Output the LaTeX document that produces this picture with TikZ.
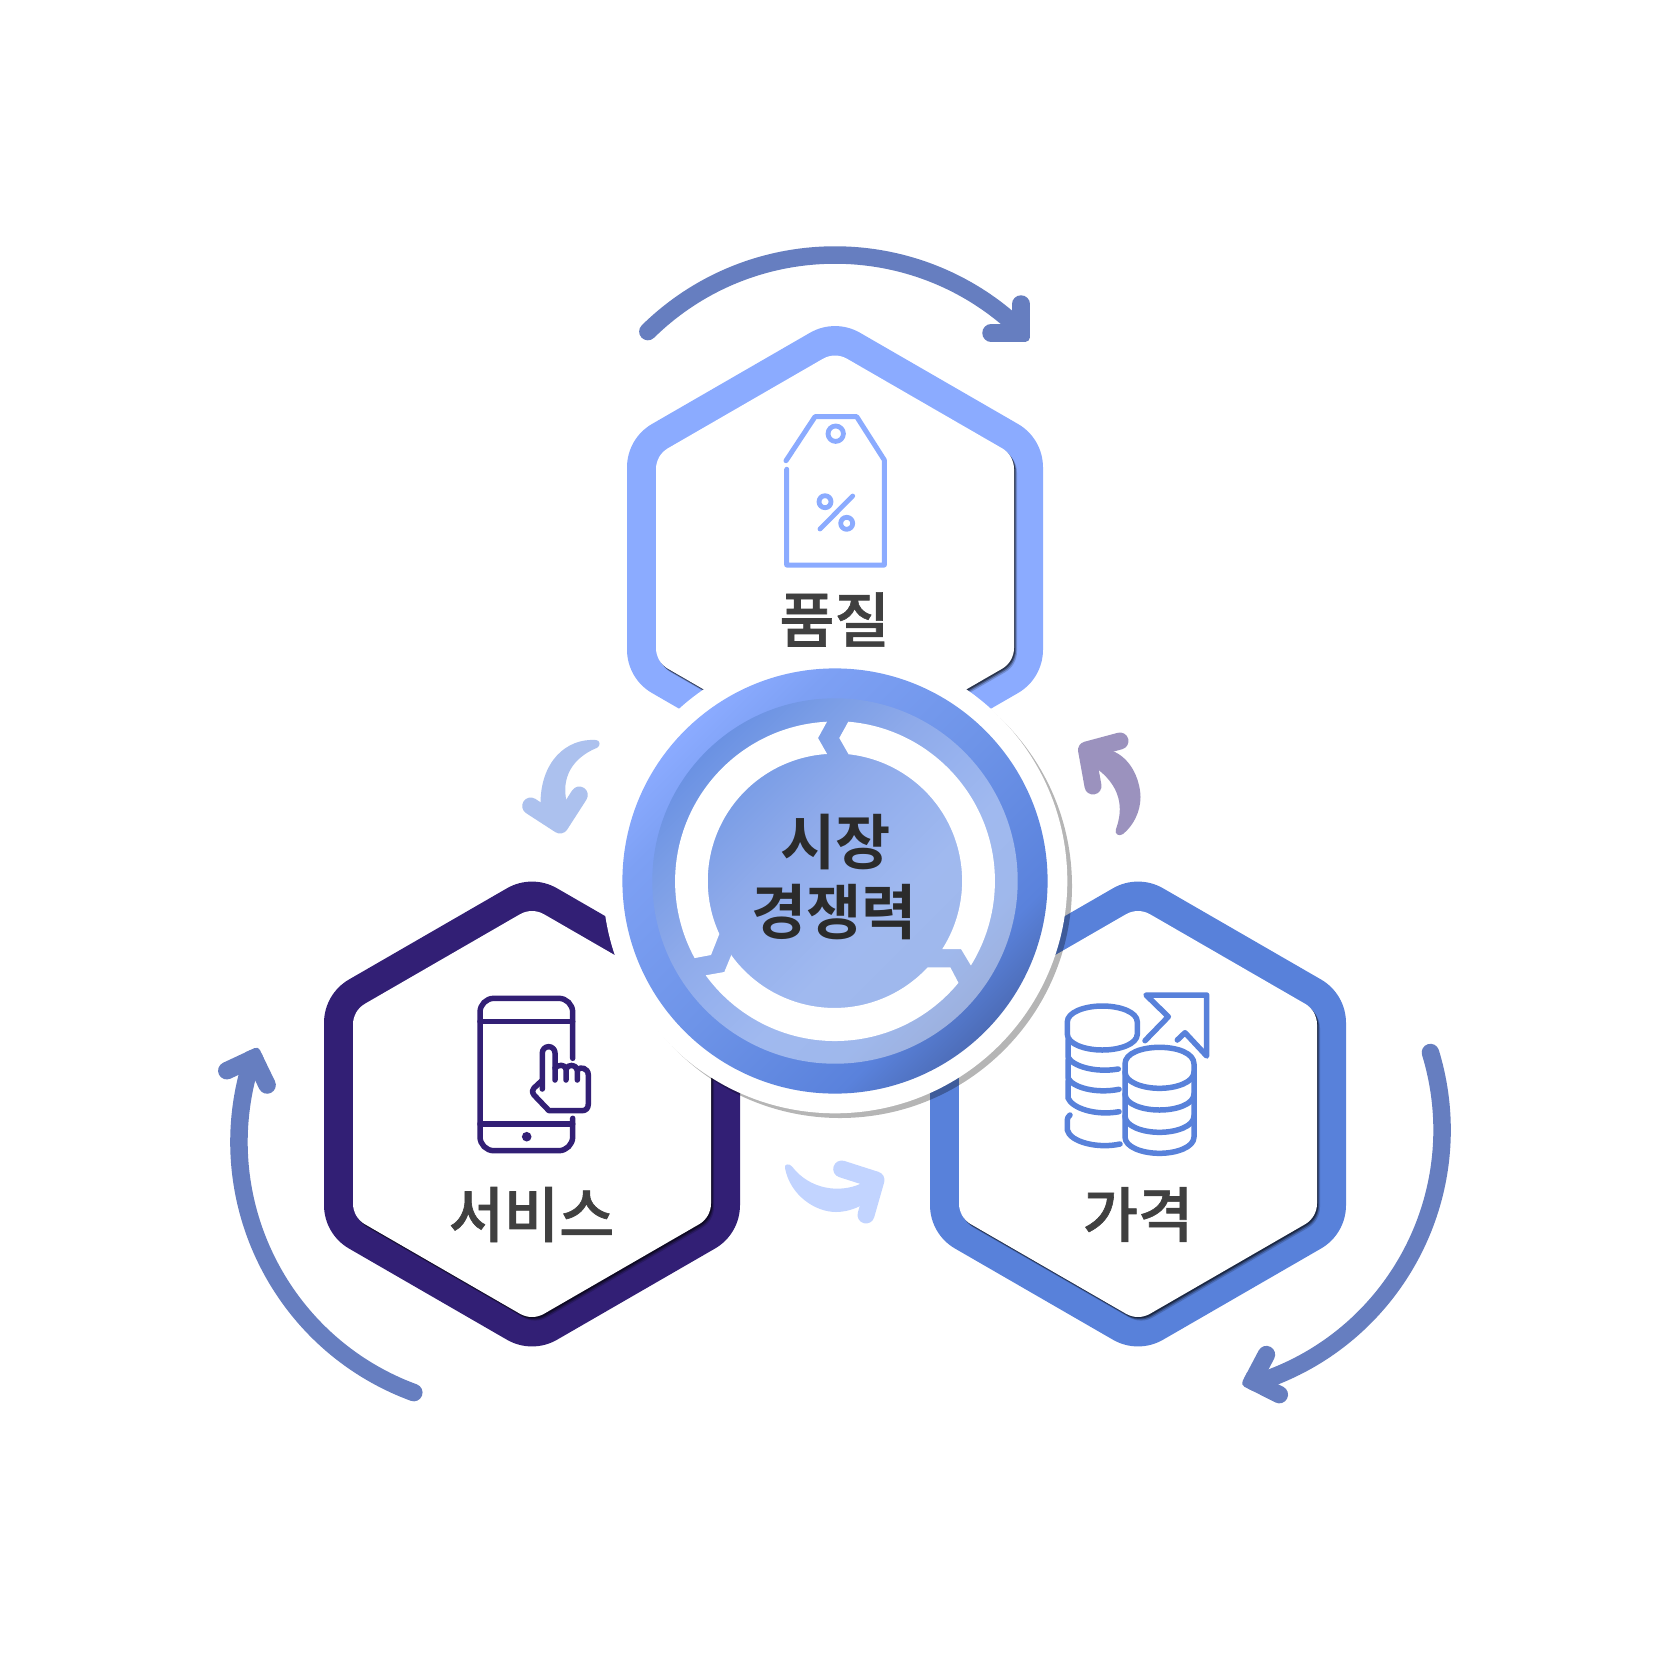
\documentclass[tikz,border=0pt]{standalone}
\usepackage{fontspec}
\newfontfamily\krfont[FakeBold=1]{Noto Sans CJK KR Medium}
\newfontfamily\krbold{Noto Sans CJK KR Bold}
\definecolor{hextop}{HTML}{8BABFF}
\definecolor{hexsvc}{HTML}{321F75}
\definecolor{hexprc}{HTML}{5881DA}
\definecolor{bigarrow}{HTML}{667EC0}
\definecolor{arrowA}{HTML}{ACC1EE}
\definecolor{arrowB}{HTML}{9B92BE}
\definecolor{arrowC}{HTML}{C2D4FF}
\definecolor{labeltxt}{HTML}{404040}
\definecolor{centertxt}{HTML}{2B2B2B}
\definecolor{oA}{HTML}{8BABFF}
\definecolor{oB}{HTML}{7DA0F4}
\definecolor{oC}{HTML}{6E94E8}
\definecolor{oD}{HTML}{5A82DC}
\definecolor{oE}{HTML}{4D6DB8}
\definecolor{iA}{HTML}{6B92E3}
\definecolor{iB}{HTML}{7A9DE6}
\definecolor{iC}{HTML}{8EAAEA}
\definecolor{iD}{HTML}{97B2EE}
\definecolor{iE}{HTML}{A0B9EF}
\definecolor{iF}{HTML}{9FB8EC}
\definecolor{iG}{HTML}{9DB1DF}
\pgfdeclarehorizontalshading{outergrad}{100bp}{
 color(0bp)=(oA); color(25bp)=(oA); color(32bp)=(oB); color(50bp)=(oC);
 color(68bp)=(oD); color(75bp)=(oE); color(100bp)=(oE)}
\pgfdeclarehorizontalshading{innergrad}{100bp}{
 color(0bp)=(iA); color(25bp)=(iA); color(32bp)=(iB); color(42bp)=(iC); color(50bp)=(iD);
 color(58bp)=(iE); color(68bp)=(iF); color(75bp)=(iG); color(100bp)=(iG)}
\tikzset{
  bigarc/.style={draw=bigarrow,line width=17.5pt,line cap=round},
  bighead/.style={draw=bigarrow,line width=17.5pt,line cap=round,line join=round},
  iconline/.style={line width=#1,line cap=round,line join=round},
  smallhead/.style={line width=17pt,line cap=round,line join=round},
  hexlabel/.style={text=labeltxt,font=\krfont\fontsize{60}{60}\selectfont,inner sep=0pt},
  centerlabel/.style={text=centertxt,font=\krbold\fontsize{60}{60}\selectfont,inner sep=0pt}
}
% hexagon with true circular corners: #1,#2 centre, #3 half width, #4 corner radius
\newcommand{\hexcorner}[5]{-- ({#1+((#3-#4)/0.866025)*cos(#5)+#4*cos(#5-30)},{#2+((#3-#4)/0.866025)*sin(#5)+#4*sin(#5-30)}) arc ({#5-30}:{#5+30}:#4)}
\newcommand{\hexshape}[4]{%
  ({#1-#3},{#2})
  \hexcorner{#1}{#2}{#3}{#4}{210} \hexcorner{#1}{#2}{#3}{#4}{270} \hexcorner{#1}{#2}{#3}{#4}{330}
  \hexcorner{#1}{#2}{#3}{#4}{390} \hexcorner{#1}{#2}{#3}{#4}{450} \hexcorner{#1}{#2}{#3}{#4}{510} -- cycle}
\newcommand{\hexring}[3]{%
  \fill[#3] \hexshape{#1}{#2}{208}{50};
  \fill[black,opacity=.18] \hexshape{#1+3}{#2+3.6}{179}{24};
  \fill[black,opacity=.3] \hexshape{#1+2}{#2+2.5}{179}{24};
  \fill[black,opacity=.45] \hexshape{#1+1.2}{#2+1.4}{179}{24};
  \fill[white] \hexshape{#1}{#2}{179}{24};}
\newcommand{\headcorner}[3]{\fill[bigarrow,shift={(#1,#2)},rotate=#3,rounded corners=4pt] (-8.75,-8.75) rectangle (8.75,8.75);}
\begin{document}
\begin{tikzpicture}[x=1pt,y=1pt,yscale=-1]
\useasboundingbox (0,0) rectangle (1667,1667);
\fill[white] (0,0) rectangle (1667,1667);
% hexagons
\hexring{835}{558.5}{hextop}
\hexring{532}{1114}{hexsvc}
\hexring{1138}{1114}{hexprc}
% halo and discs
\fill[black,opacity=.29] (840,886) circle (232);
\fill[white] (835,881) circle (232.3);
\shade[shading=outergrad,shading angle=-45] (835,881) circle (212.6);
\shade[shading=innergrad,shading angle=-45] (835,881) circle (182.7);
% white ring segments
\fill[white] (827,721.7) arc (267.1:151.4:160) -- (711,955) -- (719.3,934)
  arc (155.4:266.4:127.3) -- (818,738) -- cycle;
\fill[white] (848.3,721.7) arc (274.8:391.8:160) -- (961,949) -- (942.3,949)
  arc (392.4:276.2:127.3) -- (839.3,738) -- cycle;
\fill[white] (731.3,955) -- (724.3,972) -- (705.7,975.3) arc (143.9:39.5:160)
  -- (950.3,967.3) -- (927.7,967.3) arc (42.9:144.5:127.3) -- cycle;
% labels
\node[centerlabel] (cA) at (835.5,842.5) {시장};
\node[centerlabel] (cB) at (834,912.5) {경쟁력};
\node[hexlabel] (lQ) at (834.5,619.5) {품질};
\node[hexlabel] (lS) at (531.5,1214.5) {서비스};
\node[hexlabel] (lP) at (1138,1214.5) {가격};
% big arrows
\draw[bigarc] (835,522) ++(225.5:267) arc (225.5:313.5:267);
\draw[bighead] (1021,304) -- (1021,333) -- (991,333);
\headcorner{1021}{333}{0}
\draw[bigarc] (1177,1130) ++(-17:265) arc (-17:72:265);
\draw[bighead] (1266.4,1354.6) -- (1252.5,1381) -- (1279.3,1394.6);
\headcorner{1252.5}{1381}{27}
\draw[bigarc] (506,1142) ++(110.2:267) arc (110.2:197.5:267);
\draw[bighead] (226.8,1070.7) -- (254,1058) -- (267.1,1085);
\headcorner{254}{1058}{-25}
% small arrow A
\fill[arrowA] (596,740) .. controls (566,738) and (540,762) .. (540.5,805) -- (560,825.5) -- (566.7,802)
  .. controls (561,778) and (572,758) .. (597,747.8) .. controls (601,746) and (600,740) .. (596,740) -- cycle;
\draw[arrowA,smallhead] (530.7,806) -- (560,825) -- (579.3,795);
% small arrow B
\fill[arrowB] (1110,750) .. controls (1134,758) and (1140.5,785) .. (1140.5,797)
  .. controls (1140.5,812) and (1133,826) .. (1123,834) .. controls (1119,837) and (1114,834) .. (1116,829)
  .. controls (1121,815) and (1126,790) .. (1096,768) -- (1086.5,752.5) -- cycle;
\draw[arrowB,smallhead] (1120,741) -- (1086.5,750) -- (1093,786);
% small arrow C
\fill[arrowC] (785,1168) .. controls (790,1195) and (815,1212) .. (836,1212) .. controls (845,1212) and (855,1209) .. (862,1205)
  -- (876,1180) -- (860,1184) .. controls (840,1193) and (810,1190) .. (792,1166.5) .. controls (789,1163) and (784,1164) .. (785,1168) -- cycle;
\draw[arrowC,smallhead] (841.7,1169) -- (876,1180) -- (866,1215);
% tag icon
\draw[hextop,iconline=5pt] (786,460.7) -- (815,416.7) -- (856.7,416.7) -- (884.3,460) -- (884.3,565) -- (786.7,565) -- (786.7,469.3);
\draw[hextop,iconline=4.8pt] (835.7,433.7) circle (7.7);
\draw[hextop,iconline=4.8pt] (825,501.7) circle (6);
\draw[hextop,iconline=4.8pt] (846.7,523.3) circle (6);
\draw[hextop,iconline=4.8pt] (852.7,496) -- (820,529);
% phone icon
\begin{scope}[hexsvc,iconline=5.5pt]
\draw[rounded corners=14pt] (572.7,1058.3) -- (572.7,998.3) -- (480,998.3) -- (480,1150.7) -- (572.7,1150.7) -- (572.7,1118.3);
\draw (480,1021.7) -- (572.7,1021.7);
\draw (480,1124) -- (572.7,1124);
\fill (526.7,1136.7) circle (4.8);
\draw (542.3,1089) -- (542.3,1053) arc (180:360:6.35) -- (555,1080);
\draw (555,1068) .. controls (558,1064.5) and (565,1064) .. (566,1069) -- (566,1080);
\draw (566,1069) .. controls (568,1064) and (576,1064) .. (577.3,1070) -- (577.3,1080);
\draw (577.3,1070) .. controls (580,1066) and (588.3,1068) .. (588.3,1075) -- (588.3,1104)
  .. controls (588.3,1108) and (586,1110.7) .. (582,1110.7) -- (549,1110.7) -- (534,1095)
  .. controls (532,1092) and (532,1090) .. (534,1088) -- (541.5,1081);
\end{scope}
% coins icon
\begin{scope}[hexprc,iconline=5.5pt]
\draw (1067.3,1022) .. controls (1067.3,1012) and (1085,1006) .. (1102.3,1006) .. controls (1120,1006) and (1137.3,1012) .. (1137.3,1022)
  -- (1137.3,1034) .. controls (1137.3,1044) and (1120,1050) .. (1102.3,1050) .. controls (1085,1050) and (1067.3,1044) .. (1067.3,1034) -- cycle;
\draw (1068,1040) -- (1068,1057) .. controls (1072,1066) and (1095,1073) .. (1118.3,1069);
\draw (1068,1060) -- (1068,1078) .. controls (1072,1087) and (1095,1094) .. (1119,1089.3);
\draw (1068,1081) -- (1068,1098) .. controls (1072,1108) and (1095,1116) .. (1119,1111.7);
\draw (1070,1115) .. controls (1068,1117) and (1067.3,1118) .. (1067.3,1120) -- (1067.3,1130) .. controls (1070,1142) and (1098,1149) .. (1120,1144);
\draw (1125,1064) .. controls (1125,1053) and (1142,1047.3) .. (1159.5,1047.3) .. controls (1177,1047.3) and (1194,1053) .. (1194,1064)
  -- (1194,1072) .. controls (1194,1082) and (1177,1088.3) .. (1159.5,1088.3) .. controls (1142,1088.3) and (1125,1082) .. (1125,1072) -- cycle;
\draw (1125,1072) -- (1125,1094) .. controls (1125,1104) and (1142,1110) .. (1159.5,1110) .. controls (1177,1110) and (1194,1104) .. (1194,1094) -- (1194,1072);
\draw (1125,1094) -- (1125,1116) .. controls (1125,1126) and (1142,1132.3) .. (1159.5,1132.3) .. controls (1177,1132.3) and (1194,1126) .. (1194,1116) -- (1194,1094);
\draw (1125,1116) -- (1125,1137) .. controls (1125,1147) and (1142,1153.3) .. (1159.5,1153.3) .. controls (1177,1153.3) and (1194,1147) .. (1194,1137) -- (1194,1116);
\draw (1145,1040.7) -- (1168.3,1016.7) -- (1146,995) -- (1206.7,995) -- (1206.7,1056) -- (1185,1032.7) -- (1177.3,1040);
\end{scope}
\end{tikzpicture}
\end{document}
